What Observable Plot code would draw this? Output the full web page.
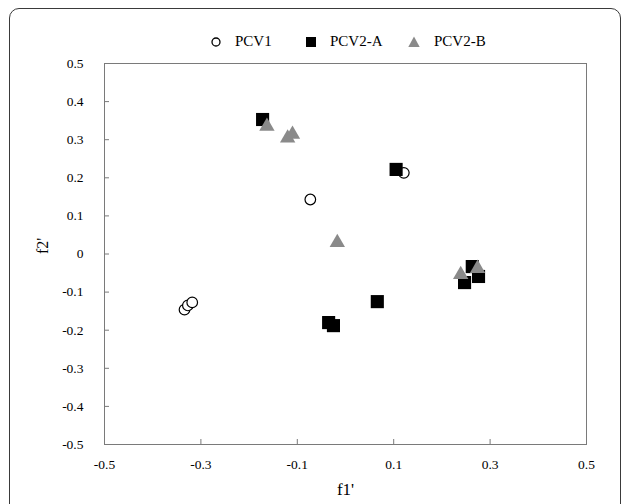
<!DOCTYPE html>
<html>
<head>
<meta charset="utf-8">
<script src="https://cdn.jsdelivr.net/npm/d3@7"></script>
<script src="https://cdn.jsdelivr.net/npm/@observablehq/plot@0.6"></script>
<style>
  html, body { margin: 0; padding: 0; background: #fff; }
  #wrap { position: relative; width: 627px; height: 504px; overflow: hidden; background: #fff; }
  #border { position: absolute; left: 9px; top: 8px; width: 610px; height: 530px; border: 1.6px solid #3a3a3a; border-radius: 10px; pointer-events: none; }
  #legend { position: relative; height: 54px; font-family: "Liberation Serif", "Times New Roman", serif; font-size: 15px; color: #000; }
  #legend .sym { position: absolute; top: 35px; }
  #legend .lab { position: absolute; top: 32px; line-height: 18px; white-space: nowrap; }
  #chart svg { display: block; }
</style>
</head>
<body>
<div id="wrap">
  <div id="legend"></div>
  <div id="chart"></div>
  <div id="border"></div>
</div>
<script>
// Tick values
const xTicks = [-0.5, -0.3, -0.1, 0.1, 0.3, 0.5];
const yTicks = [0.5, 0.4, 0.3, 0.2, 0.1, 0, -0.1, -0.2, -0.3, -0.4, -0.5];

// Series names
const seriesNames = ["PCV1", "PCV2-A", "PCV2-B"];

// PCV1 (open circles)
const pcv1X = [-0.334, -0.327, -0.318, -0.073, 0.121];
const pcv1Y = [-0.146, -0.135, -0.127, 0.143, 0.213];

// PCV2-A (black squares)
const pcv2aX = [-0.172, 0.105, -0.035, -0.025, 0.066, 0.247, 0.263, 0.276];
const pcv2aY = [0.353, 0.222, -0.180, -0.188, -0.125, -0.075, -0.033, -0.059];

// PCV2-B (grey triangles)
const pcv2bX = [-0.163, -0.120, -0.110, -0.017, 0.239, 0.274];
const pcv2bY = [0.335, 0.304, 0.314, 0.030, -0.054, -0.038];

const fmt = d => String(Math.round(d * 10) / 10);
const serif = '"Liberation Serif", "Times New Roman", serif';
const axisColor = "#7a7a7a";
const triColor = "#8a8a8a";

// Legend (HTML, above the SVG)
const legendSymbols = [
  '<svg width="12" height="12"><circle cx="6" cy="6" r="4" fill="white" stroke="black" stroke-width="1.3"/></svg>',
  '<svg width="12" height="12"><rect x="1" y="1" width="10" height="10" fill="black"/></svg>',
  '<svg width="12" height="12"><path d="M6,0.5 L11.7,11 L0.3,11 Z" fill="' + triColor + '"/></svg>'
];
const legendSymLeft = [210, 305, 408];
const legendLabLeft = [235, 330, 434];
document.getElementById("legend").innerHTML = seriesNames
  .map((n, i) => `<span class="sym" style="left:${legendSymLeft[i]}px">${legendSymbols[i]}</span>` +
                 `<span class="lab" style="left:${legendLabLeft[i]}px">${n}</span>`).join("");

const W = 627, H = 450;
const mL = 104, mR = 41, mT = 9, mB = 60;
const innerW = W - mL - mR, innerH = H - mT - mB;

const chart = Plot.plot({
  width: W,
  height: H,
  marginLeft: mL,
  marginRight: mR,
  marginTop: mT,
  marginBottom: mB,
  style: { fontFamily: serif, fontSize: "13.5px", color: "#000", background: "white" },
  x: { domain: [-0.5, 0.5] },
  y: { domain: [-0.5, 0.5] },
  marks: [
    Plot.frame({ stroke: axisColor }),
    // inward tick marks
    Plot.tickY(yTicks, { y: d => d, stroke: axisColor, insetRight: innerW - 5 }),
    Plot.tickX(xTicks, { x: d => d, stroke: axisColor, insetTop: innerH - 5 }),
    // tick labels
    Plot.axisX({ ticks: xTicks, tickFormat: fmt, tickSize: 0, tickPadding: 15, label: null, fill: "#000" }),
    Plot.axisY({ ticks: yTicks, tickFormat: fmt, tickSize: 0, tickPadding: 21, label: null, fill: "#000" }),
    // axis titles
    Plot.text(["f1'"], { frameAnchor: "bottom", dy: 50, fontSize: 17, fill: "#000" }),
    Plot.text(["f2'"], { frameAnchor: "left", dx: -62, rotate: -90, fontSize: 16, fill: "#000" }),
    // series
    Plot.dot(pcv1X, { x: pcv1X, y: pcv1Y, r: 5.3, symbol: "circle", fill: "white", stroke: "black", strokeWidth: 1.2 }),
    Plot.dot(pcv2aX, { x: pcv2aX, y: pcv2aY, r: 7.4, symbol: "square", fill: "black", stroke: "none" }),
    Plot.dot(pcv2bX, { x: pcv2bX, y: pcv2bY, r: 5.7, symbol: "triangle", fill: triColor, stroke: "none" })
  ]
});
document.getElementById("chart").appendChild(chart);
</script>
</body>
</html>
